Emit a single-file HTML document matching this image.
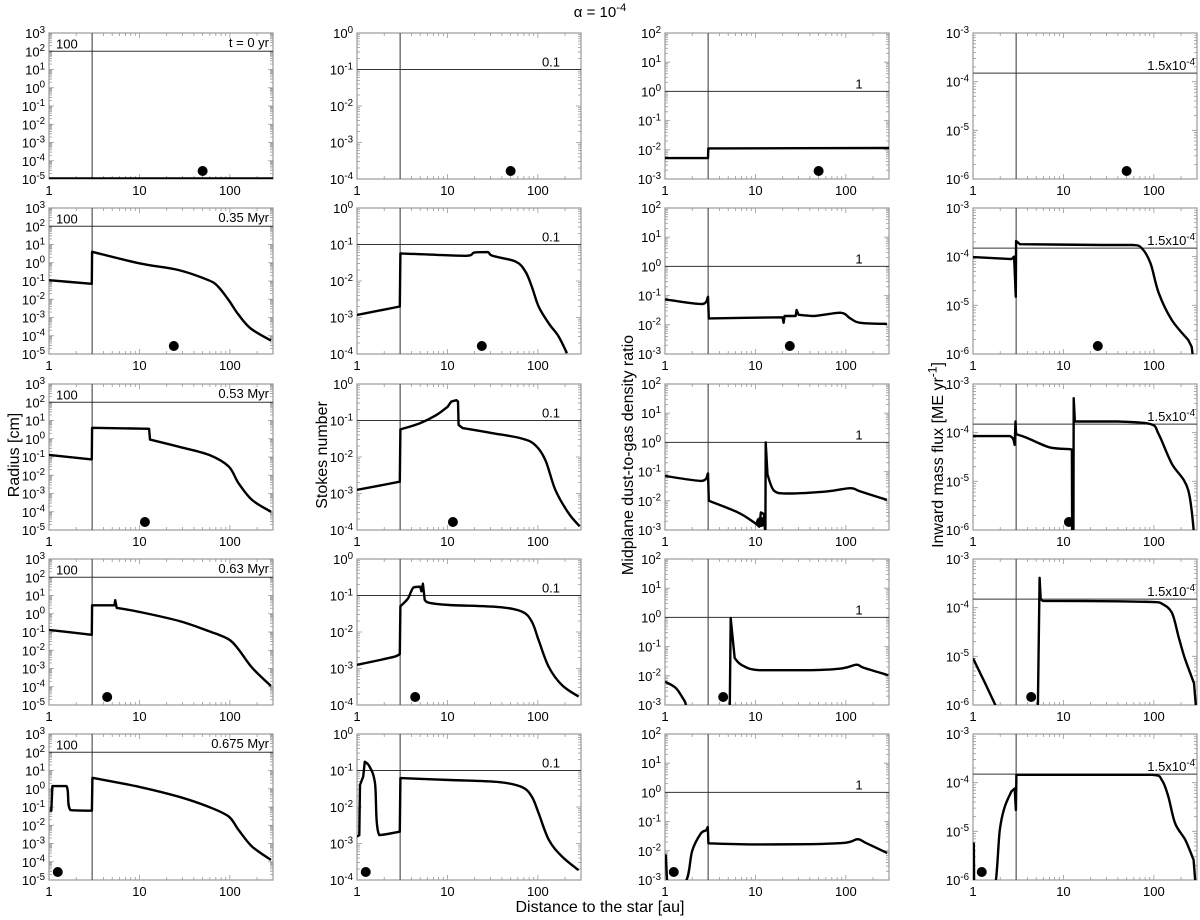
<!DOCTYPE html>
<html><head><meta charset="utf-8"><style>
html,body{margin:0;padding:0;background:#fff;}
svg{display:block;font-family:"Liberation Sans",sans-serif;}
</style></head><body>
<svg id="fig" width="1200" height="920" viewBox="0 0 1200 920"></svg>
<script>
// ---------- data ----------
const planetX = [50, 24, 11.5, 4.4, 1.25];
const timeLabels = ["t = 0 yr", "0.35 Myr", "0.53 Myr", "0.63 Myr", "0.675 Myr"];
const refValues = [100, 0.1, 1, 1.5e-4];
const refLabels = ["100", "0.1", "1", "1.5x10^-4"];
const gapX = 3;

// column 1: radius [cm]
const r1_radius_x = [1, 300];
const r1_radius_y = [1e-5, 1e-5];
const r2_radius_x = [1, 2.97, 3, 10, 27, 58, 74, 97, 125, 170, 285];
const r2_radius_y = [0.11, 0.07, 4, 0.93, 0.4, 0.11, 0.05, 0.009, 0.0014, 2.5e-4, 5.4e-5];
const r3_radius_x = [1, 2.97, 3, 12.8, 13.1, 27.5, 58.9, 97, 125, 176, 285];
const r3_radius_y = [0.13, 0.074, 4, 3.5, 0.9, 0.36, 0.13, 0.03, 0.0036, 4.4e-4, 1e-4];
const r4_radius_x = [1, 2.97, 3, 5.3, 5.4, 5.6, 10, 27.5, 58.9, 97, 125, 176, 285];
const r4_radius_y = [0.13, 0.07, 2.9, 2.9, 5.5, 2.1, 1.26, 0.4, 0.11, 0.04, 0.011, 0.0011, 1.1e-4];
const r5_radius_x = [1.02, 1.06, 1.09, 1.56, 1.73, 2.98, 3.02, 10, 27.5, 58.9, 97, 125, 176, 285];
const r5_radius_y = [0.063, 0.063, 1.4, 1.4, 0.068, 0.063, 4, 1.26, 0.36, 0.1, 0.03, 0.0055, 6.8e-4, 1.26e-4];

// column 2: Stokes number
const r1_stokes_x = [];
const r1_stokes_y = [];
const r2_stokes_x = [1, 2.97, 3.02, 16, 19.8, 27.7, 31.5, 56.7, 73, 86, 102, 132, 170, 210];
const r2_stokes_y = [1.17e-3, 2e-3, 0.057, 0.049, 0.06, 0.062, 0.049, 0.034, 0.018, 0.0069, 0.002, 6.9e-4, 3e-4, 1.05e-4];
const r3_stokes_x = [1, 2.97, 3.02, 4.9, 7.5, 10.1, 11, 12.6, 13.1, 13.3, 14.7, 31.5, 67, 94, 121, 156, 218, 290];
const r3_stokes_y = [1.26e-3, 2.1e-3, 0.057, 0.083, 0.14, 0.24, 0.33, 0.36, 0.33, 0.076, 0.062, 0.045, 0.032, 0.021, 0.0083, 0.00126, 2.9e-4, 1.26e-4];
const r4_stokes_x = [1, 2.6, 2.97, 3.02, 3.66, 4.2, 5, 5.15, 5.35, 5.6, 6.3, 10.5, 37, 67, 86, 102, 132, 185, 282];
const r4_stokes_y = [1.26e-3, 2.1e-3, 2.5e-3, 0.051, 0.083, 0.166, 0.174, 0.13, 0.21, 0.076, 0.063, 0.055, 0.048, 0.036, 0.019, 0.006, 0.0011, 3.5e-4, 1.7e-4];
const r5_stokes_x = [1, 1.06, 1.08, 1.17, 1.22, 1.37, 1.58, 1.76, 2.97, 3.02, 10.5, 37, 67, 86, 102, 132, 185, 282];
const r5_stokes_y = [1.55e-3, 1.7e-3, 0.04, 0.068, 0.174, 0.13, 0.045, 1.7e-3, 2.1e-3, 0.062, 0.055, 0.048, 0.035, 0.019, 0.0068, 0.00126, 4.4e-4, 1.86e-4];

// column 3: dust-to-gas ratio
const r1_dtg_x = [1, 2.99, 3.01, 300];
const r1_dtg_y = [0.0052, 0.0052, 0.0112, 0.0115];
const r2_dtg_x = [1, 2.53, 2.99, 3.05, 19.9, 20.5, 21, 27.8, 28.5, 30, 44.5, 87, 112, 144, 285];
const r2_dtg_y = [0.074, 0.051, 0.091, 0.0166, 0.018, 0.0117, 0.02, 0.02, 0.032, 0.022, 0.02, 0.026, 0.0166, 0.0117, 0.0107];
const r3_dtg_x = [1, 2.53, 2.99, 3.05, 6.4, 9.7, 11, 11.5, 12.4, 12.8, 12.9, 13.0, 13.6, 16.1, 22.6, 62, 112, 144, 285];
const r3_dtg_y = [0.071, 0.048, 0.087, 0.01, 0.004, 0.0018, 0.0013, 0.004, 0.0035, 0.0009, 0.0009, 1.0, 0.079, 0.022, 0.0178, 0.021, 0.027, 0.021, 0.0107];
const r4_dtg_x = [1, 1.32, 1.64, 2.0, 5.2, 5.33, 5.5, 5.9, 7.1, 11, 41, 92, 131, 157, 295];
const r4_dtg_y = [0.0063, 0.0038, 0.0014, 5.5e-4, 5e-4, 0.95, 0.36, 0.04, 0.023, 0.0155, 0.0155, 0.018, 0.024, 0.019, 0.0105];
const r5_dtg_x = [1, 1.02, 1.05, 1.07, 1.7, 2.0, 2.5, 2.85, 2.97, 3.02, 10, 40, 100, 135, 170, 285];
const r5_dtg_y = [0.004, 0.007, 0.0012, 5e-4, 0.0009, 0.01, 0.04, 0.05, 0.065, 0.018, 0.0165, 0.0168, 0.019, 0.025, 0.018, 0.0085];

// column 4: inward mass flux
const r1_flux_x = [];
const r1_flux_y = [];
const r2_flux_x = [1, 2.66, 2.85, 2.97, 3.0, 3.3, 27, 58, 74, 92, 113, 158, 240, 262, 280];
const r2_flux_y = [9.8e-5, 8.9e-5, 1e-4, 1.5e-5, 2.1e-4, 1.8e-4, 1.74e-4, 1.74e-4, 1.48e-4, 7.2e-5, 1.8e-5, 5e-6, 1.95e-6, 1.4e-6, 5e-7];
const r3_flux_x = [1, 2.55, 2.89, 2.95, 3.0, 3.9, 7, 11.6, 12.4, 12.5, 12.9, 13.0, 13.4, 40, 92, 113, 158, 240, 285];
const r3_flux_y = [8.5e-5, 8.5e-5, 5.6e-5, 1.7e-4, 9.3e-5, 7.9e-5, 5e-5, 4.6e-5, 4.5e-5, 5e-7, 5e-7, 5.1e-4, 1.7e-4, 1.7e-4, 1.5e-4, 9.3e-5, 2.3e-5, 6.6e-6, 5e-7];
const r4_flux_x = [1, 1.36, 1.94, 2.1, 5.2, 5.45, 5.6, 5.9, 40, 100, 121, 158, 188, 220, 278, 300];
const r4_flux_y = [9.1e-6, 2.8e-6, 6.9e-7, 5e-7, 5e-7, 4.1e-4, 1.5e-4, 1.38e-4, 1.35e-4, 1.3e-4, 1.23e-4, 7.9e-5, 2.5e-5, 9.1e-6, 2.8e-6, 5e-7];
const r5_flux_x = [1, 1.01, 1.02, 1.03, 1.67, 1.98, 2.25, 2.66, 2.89, 2.98, 3.02, 96, 123, 145, 172, 223, 275, 295];
const r5_flux_y = [2.4e-6, 5e-7, 5.6e-6, 5e-7, 5e-7, 1.07e-5, 3.2e-5, 6.6e-5, 7.6e-5, 2.75e-5, 1.45e-4, 1.45e-4, 1.12e-4, 5.1e-5, 1.45e-5, 6.6e-6, 2.6e-6, 5e-7];

// ---------- layout ----------
const NS = "http://www.w3.org/2000/svg";
const svg = document.getElementById("fig");
const colLeft = [49, 357, 665, 973];
const rowTop = [33, 208, 384, 559, 734];
const PW = 224, PH = 146;
const X0 = 0, X1 = Math.log10(300);
const yRange = [[-5, 3], [-4, 0], [-3, 2], [-6, -3]];
const colKey = ["radius", "stokes", "dtg", "flux"];
const colNames = ["radius", "stokes", "dust-to-gas", "mass-flux"];
const seriesX = {
  radius: [r1_radius_x, r2_radius_x, r3_radius_x, r4_radius_x, r5_radius_x],
  stokes: [r1_stokes_x, r2_stokes_x, r3_stokes_x, r4_stokes_x, r5_stokes_x],
  dtg: [r1_dtg_x, r2_dtg_x, r3_dtg_x, r4_dtg_x, r5_dtg_x],
  flux: [r1_flux_x, r2_flux_x, r3_flux_x, r4_flux_x, r5_flux_x]
};
const seriesY = {
  radius: [r1_radius_y, r2_radius_y, r3_radius_y, r4_radius_y, r5_radius_y],
  stokes: [r1_stokes_y, r2_stokes_y, r3_stokes_y, r4_stokes_y, r5_stokes_y],
  dtg: [r1_dtg_y, r2_dtg_y, r3_dtg_y, r4_dtg_y, r5_dtg_y],
  flux: [r1_flux_y, r2_flux_y, r3_flux_y, r4_flux_y, r5_flux_y]
};

function mk(tag, attrs, parent) {
  const e = document.createElementNS(NS, tag);
  for (const k in attrs) e.setAttribute(k, attrs[k]);
  (parent || svg).appendChild(e);
  return e;
}
function supText(parent, x, y, base, exp, anchor, size) {
  const t = mk("text", {x: x, y: y, "text-anchor": anchor, "font-size": size, fill: "#000"}, parent);
  t.appendChild(document.createTextNode(base));
  const s = mk("tspan", {dy: -size * 0.4, "font-size": size * 0.75}, t);
  s.textContent = exp;
  return t;
}
function smoothPath(P) {
  let d = "M" + P[0][0].toFixed(1) + "," + P[0][1].toFixed(1);
  const clamp = (v, a, b) => Math.max(Math.min(a, b), Math.min(Math.max(a, b), v));
  for (let i = 0; i < P.length - 1; i++) {
    const p1 = P[i], p2 = P[i + 1];
    if (p2[0] - p1[0] < 4) { d += "L" + p2[0].toFixed(1) + "," + p2[1].toFixed(1); continue; }
    const p0 = (i > 0 && p1[0] - P[i - 1][0] >= 4) ? P[i - 1] : p1;
    const p3 = (i + 2 < P.length && P[i + 2][0] - p2[0] >= 4) ? P[i + 2] : p2;
    let c1x = p1[0] + (p2[0] - p0[0]) / 6, c1y = p1[1] + (p2[1] - p0[1]) / 6;
    let c2x = p2[0] - (p3[0] - p1[0]) / 6, c2y = p2[1] - (p3[1] - p1[1]) / 6;
    c1x = clamp(c1x, p1[0], p2[0]); c2x = clamp(c2x, p1[0], p2[0]);
    c1y = clamp(c1y, p1[1], p2[1]); c2y = clamp(c2y, p1[1], p2[1]);
    d += `C${c1x.toFixed(1)},${c1y.toFixed(1)} ${c2x.toFixed(1)},${c2y.toFixed(1)} ${p2[0].toFixed(1)},${p2[1].toFixed(1)}`;
  }
  return d;
}

const defs = mk("defs", {});
for (let r = 0; r < 5; r++) {
  for (let c = 0; c < 4; c++) {
    const L = colLeft[c], T = rowTop[r];
    const [ylo, yhi] = yRange[c];
    const sx = v => L + (Math.log10(v) - X0) / (X1 - X0) * PW;
    const sy = v => T + PH - (Math.log10(v) - ylo) / (yhi - ylo) * PH;
    const g = mk("g", {});
    
    
    const cp = mk("clipPath", {id: "cp" + r + c}, defs);
    mk("rect", {x: L, y: T, width: PW, height: PH}, cp);

    let tk = "";
    for (let d = 0; d < 3; d++) for (let m = 1; m < 10; m++) {
      const v = Math.pow(10, d) * m; if (v > 300) break;
      const xx = sx(v), len = m === 1 ? 5 : 3;
      tk += `M${xx},${T + PH}v${-len}M${xx},${T}v${len}`;
    }
    for (let d = ylo; d <= yhi; d++) {
      const yy = sy(Math.pow(10, d));
      tk += `M${L},${yy}h5M${L + PW},${yy}h-5`;
      if (d < yhi) for (let m = 2; m < 10; m++) {
        const y2 = sy(m * Math.pow(10, d));
        tk += `M${L},${y2}h3M${L + PW},${y2}h-3`;
      }
    }
    mk("path", {d: tk, stroke: "#999", "stroke-width": 0.8, fill: "none"}, g);
    const fr = mk("rect", {x: L, y: T, width: PW, height: PH, fill: "none", stroke: "#999", "stroke-width": 1.2}, g);
    
    

    const vl = mk("line", {x1: sx(gapX), x2: sx(gapX), y1: T, y2: T + PH, stroke: "#555", "stroke-width": 1.2}, g);
    
    
    const hy = sy(refValues[c]);
    const hl = mk("line", {x1: L, x2: L + PW, y1: hy, y2: hy, stroke: "#333", "stroke-width": 1}, g);
    
    
    let rl;
    if (c === 0) { rl = mk("text", {x: L + 7, y: hy - 3, "font-size": 13}, g); rl.textContent = refLabels[0]; }
    else if (c === 3) rl = supText(g, L + PW - 2, hy - 3, "1.5x10", "-4", "end", 13);
    else { rl = mk("text", {x: L + PW - 30, y: hy - 3, "font-size": 13, "text-anchor": "middle"}, g); rl.textContent = refLabels[c]; }
    
    
    if (c === 0) {
      const tl = mk("text", {x: L + PW - 4, y: T + 14, "font-size": 13, "text-anchor": "end"}, g);
      tl.textContent = timeLabels[r];
      
      
    }

    const xs = seriesX[colKey[c]][r], ys = seriesY[colKey[c]][r];
    if (xs.length) {
      const P = xs.map((v, i) => [sx(v), sy(ys[i])]);
      const p = mk("path", {d: smoothPath(P), fill: "none", stroke: "#000", "stroke-width": (r === 0 && c === 0) ? 3.5 : 2.4, "stroke-linejoin": "round", "clip-path": `url(#cp${r}${c})`}, g);
      
      
    }
    const dot = mk("circle", {cx: sx(planetX[r]), cy: T + PH - 8, r: 5, fill: "#000"}, g);
    
    

    [1, 10, 100].forEach(v => {
      const t = mk("text", {x: sx(v), y: T + PH + 16, "font-size": 13, "text-anchor": "middle"}, g);
      t.textContent = String(v);
      
      
    });
    for (let dd = ylo; dd <= yhi; dd++) {
      const t = supText(g, L - 4, sy(Math.pow(10, dd)) + 5, "10", String(dd), "end", 13);
      
      
    }
  }
}

const title = supText(svg, 600, 17, "α = 10", "-4", "middle", 15);


const xt = mk("text", {x: 600, y: 912, "font-size": 16, "text-anchor": "middle"});
xt.textContent = "Distance to the star [au]";


const yTitles = [["Radius [cm]", 14], ["Stokes number", 322], ["Midplane dust-to-gas density ratio", 628], [null, 938]];
yTitles.forEach((yt, i) => {
  let t;
  if (yt[0]) { t = mk("text", {x: 0, y: 0, "font-size": 16, "text-anchor": "middle", transform: `translate(${yt[1] + 5},455) rotate(-90)`}); t.textContent = yt[0]; }
  else { t = supText(svg, 0, 0, "Inward mass flux [ME yr", "-1", "middle", 16); t.setAttribute("transform", `translate(${yt[1] + 5},455) rotate(-90)`); const e = mk("tspan", {dy: 6}, t); e.textContent = "]"; }
  
  
});
</script>
</body></html>
